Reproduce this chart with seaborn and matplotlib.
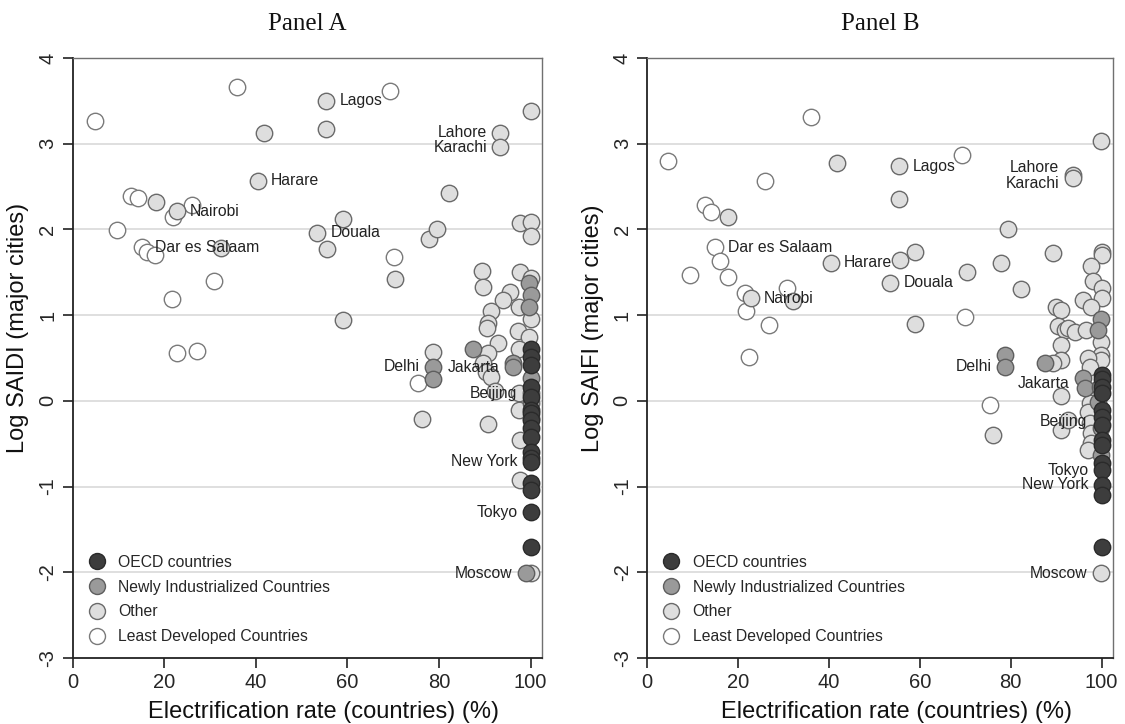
import matplotlib
matplotlib.use("Agg")
import matplotlib.pyplot as plt
import seaborn as sns
import pandas as pd
from matplotlib.lines import Line2D

# ---------------- data ----------------
groups = ["OECD countries", "Newly Industrialized Countries", "Other", "Least Developed Countries"]

# Panel A: Log SAIDI
a_oecd_x = [100] * 17
a_oecd_y = [0.60, 0.51, 0.42, 0.16, 0.04, -0.11, -0.14, -0.22, -0.32, -0.42, -0.60, -0.67, -0.71, -0.96, -1.04, -1.30, -1.70]

a_nic_x = [99.6, 100, 99.6, 87.5, 78.6, 78.8, 96.1, 96.1, 100, 100, 100, 100, 98.9]
a_nic_y = [1.38, 1.23, 1.10, 0.60, 0.40, 0.25, 0.44, 0.39, 0.27, 0.09, -0.02, -0.20, -2.01]

a_oth_x = [18.3, 22.8, 32.5, 40.5, 41.9, 55.4, 55.4, 59.1, 53.4, 55.6, 77.9, 79.5, 70.5, 82.3, 59.1,
           100, 93.4, 93.4, 97.8, 100, 100, 89.5, 89.7, 95.6, 93.9, 97.8, 100, 97.4, 91.3, 90.8,
           90.6, 100, 97.2, 99.6, 92.8, 78.6, 90.8, 97.4, 89.7, 90.2, 91.3, 92.3, 97.4, 97.4, 76.4,
           90.8, 97.8, 97.8, 100]
a_oth_y = [2.32, 2.21, 1.78, 2.57, 3.13, 3.50, 3.17, 2.12, 1.96, 1.77, 1.89, 2.01, 1.42, 2.42, 0.94,
           3.38, 3.13, 2.96, 2.08, 2.09, 1.92, 1.52, 1.33, 1.27, 1.18, 1.50, 1.43, 1.10, 1.05, 0.91,
           0.85, 0.95, 0.81, 0.75, 0.68, 0.57, 0.56, 0.60, 0.44, 0.34, 0.28, 0.11, 0.09, -0.11, -0.21,
           -0.27, -0.46, -0.92, -2.01]

a_ldc_x = [4.9, 36.0, 69.4, 12.8, 14.3, 26.1, 22.0, 9.7, 15.2, 16.3, 18.0, 30.9, 21.7, 22.8, 27.2, 70.1, 75.5]
a_ldc_y = [3.27, 3.66, 3.61, 2.39, 2.37, 2.29, 2.15, 1.99, 1.79, 1.74, 1.70, 1.40, 1.19, 0.56, 0.58, 1.68, 0.21]

a_label_names = ["Lagos", "Lahore", "Karachi", "Harare", "Nairobi", "Dar es Salaam", "Douala",
                 "Delhi", "Jakarta", "Beijing", "New York", "Tokyo", "Moscow"]
a_label_x = [55.4, 93.4, 93.4, 40.5, 22.8, 15.2, 53.4, 78.6, 96.1, 100, 100, 100, 98.9]
a_label_y = [3.50, 3.13, 2.96, 2.57, 2.21, 1.79, 1.96, 0.40, 0.39, 0.09, -0.71, -1.30, -2.01]
a_label_side = ["r", "l", "l", "r", "r", "r", "r", "l", "l", "l", "l", "l", "l"]

# Panel B: Log SAIFI
b_oecd_x = [100] * 14
b_oecd_y = [0.30, 0.25, 0.16, 0.09, -0.11, -0.19, -0.28, -0.46, -0.51, -0.73, -0.81, -0.98, -1.10, -1.70]

b_nic_x = [99.8, 99.3, 78.7, 78.7, 87.5, 95.8, 96.3, 99.1, 99.8, 99.8, 99.6]
b_nic_y = [0.95, 0.83, 0.53, 0.40, 0.44, 0.27, 0.15, -0.01, -0.32, -0.63, 0.16]

b_oth_x = [41.7, 17.8, 40.4, 53.5, 22.8, 32.2, 99.8, 55.5, 55.5, 93.6, 93.6, 79.4, 59.0, 55.7, 70.4,
           77.9, 82.2, 59.0, 89.3, 100, 100, 97.6, 98.0, 100, 100, 95.8, 97.6, 89.9, 91.0, 90.4,
           91.9, 92.5, 94.1, 96.5, 99.8, 99.8, 99.8, 91.0, 91.0, 89.3, 96.9, 97.4, 98.7, 91.0, 97.4,
           96.9, 97.4, 97.6, 97.6, 91.0, 92.5, 76.1, 96.9, 99.8]
b_oth_y = [2.78, 2.14, 1.61, 1.38, 1.20, 1.17, 3.03, 2.74, 2.35, 2.64, 2.60, 2.00, 1.74, 1.64, 1.50,
           1.61, 1.31, 0.90, 1.73, 1.74, 1.70, 1.57, 1.40, 1.32, 1.20, 1.18, 1.09, 1.10, 1.06, 0.87,
           0.83, 0.85, 0.80, 0.83, 0.69, 0.54, 0.48, 0.65, 0.48, 0.44, 0.50, 0.40, 0.13, 0.06, -0.02,
           -0.13, -0.26, -0.37, -0.49, -0.34, -0.22, -0.40, -0.57, -2.01]

b_ldc_x = [4.6, 36.0, 25.9, 12.7, 14.0, 14.9, 16.0, 9.4, 17.8, 21.5, 30.7, 21.7, 26.8, 22.4, 69.3, 70.0, 75.4]
b_ldc_y = [2.80, 3.31, 2.57, 2.28, 2.20, 1.79, 1.63, 1.47, 1.45, 1.26, 1.32, 1.05, 0.88, 0.51, 2.87, 0.98, -0.05]

b_label_names = ["Lagos", "Lahore", "Karachi", "Dar es Salaam", "Harare", "Nairobi", "Douala",
                 "Delhi", "Jakarta", "Beijing", "Tokyo", "New York", "Moscow"]
b_label_x = [55.5, 93.6, 93.6, 14.9, 40.4, 22.8, 53.5, 78.7, 95.8, 99.8, 100, 100, 99.8]
b_label_y = [2.74, 2.64, 2.60, 1.79, 1.61, 1.20, 1.38, 0.40, 0.27, -0.32, -0.81, -0.98, -2.01]
b_label_side = ["r", "lu", "ld", "r", "r", "r", "r", "l", "ld", "lu", "l", "l", "l"]

xticks = [0, 20, 40, 60, 80, 100]
yticks = [-3, -2, -1, 0, 1, 2, 3, 4]

# ---------------- style ----------------
sns.set_theme(style="white")
plt.rcParams["font.family"] = ["Liberation Sans", "DejaVu Sans"]

fills = {"OECD countries": "#3d3d3d", "Newly Industrialized Countries": "#9a9a9a",
         "Other": "#dedede", "Least Developed Countries": "#ffffff"}
edges = {"OECD countries": "#2a2a2a", "Newly Industrialized Countries": "#5e5e5e",
         "Other": "#6a6a6a", "Least Developed Countries": "#7a7a7a"}
MS = 140

fig = plt.figure(figsize=(11.25, 7.24), dpi=100)
axA = fig.add_axes([72.5 / 1125, 66 / 724, (542 - 72.5) / 1125, 600 / 724])
axB = fig.add_axes([647 / 1125, 66 / 724, (1113 - 647) / 1125, 600 / 724])


def draw(ax, data, names, lx, ly, sides, title, ylabel):
    for g in ["Least Developed Countries", "Other", "Newly Industrialized Countries", "OECD countries"]:
        xs, ys = data[g]
        df = pd.DataFrame({"x": xs, "y": ys})
        sns.scatterplot(data=df, x="x", y="y", ax=ax, s=MS, color=fills[g],
                        edgecolor=edges[g], linewidth=1.0, zorder=3, legend=False)
    for n, x, y, sd in zip(names, lx, ly, sides):
        dy = 0
        if sd.endswith("u"):
            dy = 5
        elif sd.endswith("d"):
            dy = -4
        if sd.startswith("r"):
            ax.annotate(n, (x, y), xytext=(9.5, dy), textcoords="offset points",
                        ha="left", va="center", fontsize=11.3, color="#222222", zorder=5)
        else:
            ax.annotate(n, (x, y), xytext=(-9.5, dy), textcoords="offset points",
                        ha="right", va="center", fontsize=11.3, color="#222222", zorder=5)
    ax.set_xlim(0, 102.5)
    ax.set_ylim(-3, 4)
    ax.set_xticks(xticks)
    ax.set_yticks(yticks)
    ax.set_xticklabels([str(t) for t in xticks], fontsize=14.5)
    ax.set_yticklabels([str(t) for t in yticks], fontsize=14.5, rotation=90, va="center")
    ax.tick_params(axis="both", direction="out", length=7, width=1.2, color="#222222", pad=4,
                   bottom=True, left=True)
    for v in [-2, -1, 0, 1, 2, 3]:
        ax.axhline(v, color="#dcdcdc", lw=1.3, zorder=1)
    for s in ["left", "bottom"]:
        ax.spines[s].set_color("#222222")
        ax.spines[s].set_linewidth(1.3)
    for s in ["top", "right"]:
        ax.spines[s].set_color("#707070")
        ax.spines[s].set_linewidth(1.0)
    ax.set_xlabel("Electrification rate (countries) (%)", fontsize=17, color="#111111")
    ax.set_ylabel(ylabel, fontsize=17, color="#111111")
    ax.xaxis.set_label_coords(0.535, -0.072)
    ax.yaxis.set_label_coords(-0.093, 0.55)
    ax.set_title(title, fontsize=18, family=["Liberation Serif", "DejaVu Serif"], pad=20, color="#111111")
    handles = [Line2D([], [], marker="o", linestyle="", markersize=11.5, markerfacecolor=fills[g],
                      markeredgecolor=edges[g], markeredgewidth=1.0) for g in groups]
    ax.legend(handles, groups, loc="lower left", bbox_to_anchor=(-0.005, 0.005), frameon=False,
              fontsize=11.3, labelspacing=0.62, handletextpad=0.35, borderaxespad=0.3)


dataA = {"OECD countries": (a_oecd_x, a_oecd_y), "Newly Industrialized Countries": (a_nic_x, a_nic_y),
         "Other": (a_oth_x, a_oth_y), "Least Developed Countries": (a_ldc_x, a_ldc_y)}
dataB = {"OECD countries": (b_oecd_x, b_oecd_y), "Newly Industrialized Countries": (b_nic_x, b_nic_y),
         "Other": (b_oth_x, b_oth_y), "Least Developed Countries": (b_ldc_x, b_ldc_y)}

draw(axA, dataA, a_label_names, a_label_x, a_label_y, a_label_side, "Panel A", "Log SAIDI (major cities)")
draw(axB, dataB, b_label_names, b_label_x, b_label_y, b_label_side, "Panel B", "Log SAIFI (major cities)")

fig.savefig("out.png", dpi=100)
